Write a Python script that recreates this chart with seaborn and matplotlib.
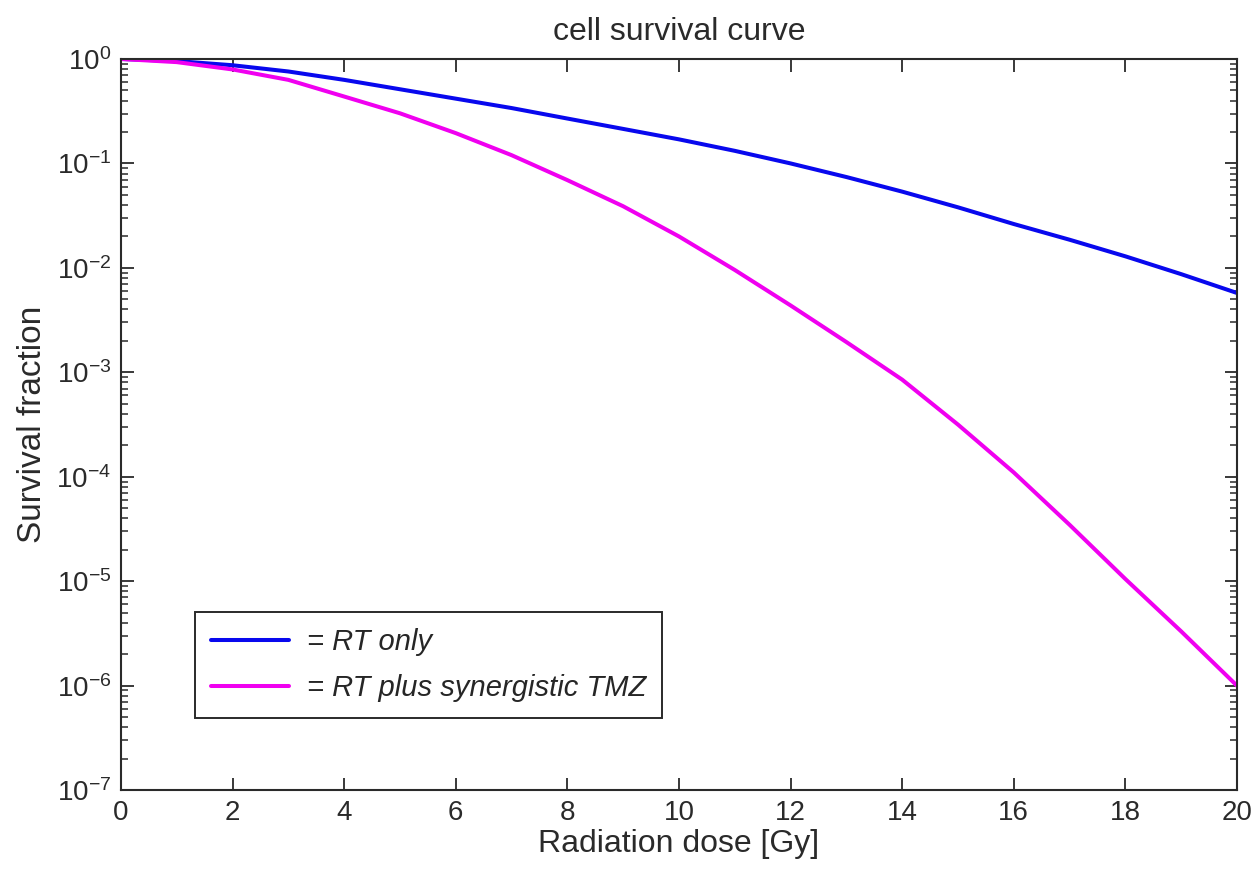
import matplotlib
matplotlib.use('Agg')
import pandas as pd
import seaborn as sns
import matplotlib.pyplot as plt
from matplotlib.ticker import FixedLocator, NullFormatter

# Data (survival fraction per dose)
dose = [0, 1, 2, 3, 4, 5, 6, 7, 8, 9, 10, 11, 12, 13, 14, 15, 16, 17, 18, 19, 20]
rt_only = [1.0, 0.955, 0.871, 0.759, 0.631, 0.513, 0.417, 0.339, 0.269, 0.214,
           0.170, 0.132, 0.100, 0.0741, 0.0537, 0.0380, 0.0263, 0.0186, 0.0129,
           0.00871, 0.00575]
rt_tmz = [1.0, 0.933, 0.794, 0.631, 0.437, 0.302, 0.195, 0.120, 0.0692, 0.0389,
          0.0200, 0.00955, 0.00437, 0.00195, 8.51e-4, 3.16e-4, 1.10e-4, 3.47e-5,
          1.05e-5, 3.31e-6, 1.0e-6]
series_labels = ['= RT only', '= RT plus synergistic TMZ']
colors = ['#0808ee', '#f000f0']
x_ticks = [0, 2, 4, 6, 8, 10, 12, 14, 16, 18, 20]
y_ticks = [1e-7, 1e-6, 1e-5, 1e-4, 1e-3, 1e-2, 1e-1, 1e0]

df = pd.DataFrame({
    'dose': dose * 2,
    'survival': rt_only + rt_tmz,
    'series': [series_labels[0]] * len(dose) + [series_labels[1]] * len(dose),
})

sns.set_style('ticks')
plt.rcParams['font.family'] = ['Liberation Sans', 'DejaVu Sans']
plt.rcParams['mathtext.fontset'] = 'custom'
plt.rcParams['mathtext.rm'] = 'Liberation Sans'

fig = plt.figure(figsize=(12.52, 8.75), dpi=100)
ax = fig.add_axes([0.0966, 0.097, 0.8914, 0.8356])

sns.lineplot(data=df, x='dose', y='survival', hue='series',
             palette=dict(zip(series_labels, colors)), linewidth=2.9, ax=ax)

ax.set_yscale('log')
ax.set_xlim(0, 20)
ax.set_ylim(1e-7, 1)
ax.set_xticks(x_ticks)
ax.set_yticks(y_ticks)
minor = [m * 10.0 ** e for e in range(-7, 0) for m in range(2, 10)]
ax.yaxis.set_minor_locator(FixedLocator(minor))
ax.yaxis.set_minor_formatter(NullFormatter())

text_col = '#2a2a2a'
ax.tick_params(which='both', direction='in', top=True, right=True,
               labelsize=20, colors=text_col, pad=7)
ax.tick_params(which='major', length=9, width=1.3)
ax.tick_params(which='minor', length=5, width=1.1)
for s in ax.spines.values():
    s.set_color(text_col)
    s.set_linewidth(1.5)

ax.set_title('cell survival curve', fontsize=23, color=text_col, pad=14)
ax.set_xlabel('Radiation dose [Gy]', fontsize=23, color=text_col, labelpad=2)
ax.set_ylabel('Survival fraction', fontsize=24, color=text_col, labelpad=6)

leg = ax.legend(loc='lower left', bbox_to_anchor=(0.066, 0.098), borderaxespad=0,
                frameon=True, fancybox=False, handlelength=2.7, handletextpad=0.6,
                prop={'style': 'italic', 'size': 21}, labelspacing=0.62,
                borderpad=0.55)
leg.get_frame().set_edgecolor(text_col)
leg.get_frame().set_linewidth(1.4)
leg.get_frame().set_alpha(1)

plt.savefig('out.png', dpi=100)
plt.close()
